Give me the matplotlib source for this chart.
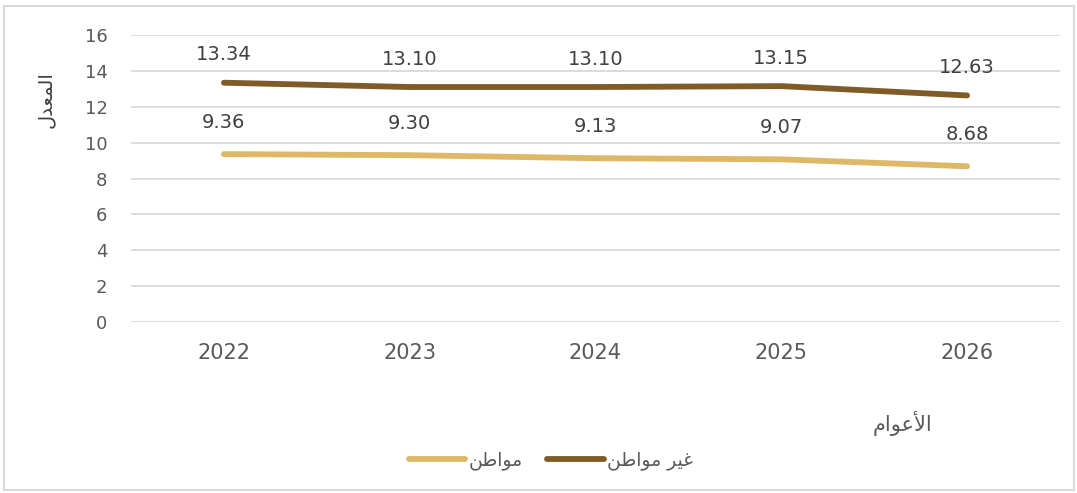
import matplotlib.pyplot as plt
from matplotlib.patches import Rectangle

# pre-shaped Arabic (presentation forms, visual order)
lbl_y = "\uFEDD\uFEAA\uFECC\uFEE4\uFEDF\uFE8D"          # المعدل
lbl_x = "\uFEE1\uFE8D\uFEEE\uFECB\uFEF7\uFE8D"          # الأعوام
name_cit = "\uFEE6\uFEC3\uFE8D\uFEEE\uFEE3"             # مواطن
name_non = "\uFEE6\uFEC3\uFE8D\uFEEE\uFEE3 \uFEAE\uFEF4\uFECF"  # غير مواطن

years = ["2022", "2023", "2024", "2025", "2026"]
citizen = [9.36, 9.30, 9.13, 9.07, 8.68]
non_citizen = [13.34, 13.10, 13.10, 13.15, 12.63]

c_light = "#DDB867"
c_dark = "#7F5B27"
txt = "#595959"

fig = plt.figure(figsize=(10.77, 4.93), dpi=100)
ax = fig.add_axes([131/1077, 1-322/493, (1060-131)/1077, (322-35)/493])

x = range(len(years))
ax.plot(x, citizen, color=c_light, lw=4.2, solid_capstyle="round", label=name_cit, zorder=3)
ax.plot(x, non_citizen, color=c_dark, lw=4.2, solid_capstyle="round", label=name_non, zorder=3)

for i in x:
    ax.annotate(f"{citizen[i]:.2f}", (i, citizen[i]), xytext=(0, 23), textcoords="offset points",
                ha="center", va="center", fontsize=14, color="#404040")
    ax.annotate(f"{non_citizen[i]:.2f}", (i, non_citizen[i]), xytext=(0, 20), textcoords="offset points",
                ha="center", va="center", fontsize=14, color="#404040")

ax.set_xlim(-0.5, len(years) - 0.5)
ax.set_ylim(0, 16)
ax.set_yticks(range(0, 17, 2))
ax.set_xticks(list(x))
ax.set_xticklabels(years)
ax.grid(axis="y", color="#D9D9D9", lw=1.3)
ax.set_axisbelow(True)
for s in ax.spines.values():
    s.set_visible(False)
ax.tick_params(axis="both", length=0, labelcolor=txt)
ax.tick_params(axis="y", pad=17, labelsize=13)
ax.tick_params(axis="x", pad=15, labelsize=15)

fig.text(45/1077, 1-100/493, lbl_y, rotation=90, ha="center", va="center",
         fontsize=14, color="#404040", family="DejaVu Sans")
fig.text(903/1077, 1-423/493, lbl_x, ha="center", va="center",
         fontsize=15, color=txt, family="DejaVu Sans")

handles, labels = ax.get_legend_handles_labels()
fig.legend(handles, labels, loc="center", bbox_to_anchor=(551/1077, 1-460/493), ncol=2,
           frameon=False, fontsize=13.5, labelcolor=txt, handlelength=3.0, columnspacing=1.3,
           handletextpad=0.2)

fig.patches.append(Rectangle((4/1077, 3/493), 1070/1077, 484/493, transform=fig.transFigure,
                             fill=False, edgecolor="#D9D9D9", lw=1.5))

fig.savefig("out.png", dpi=100)
